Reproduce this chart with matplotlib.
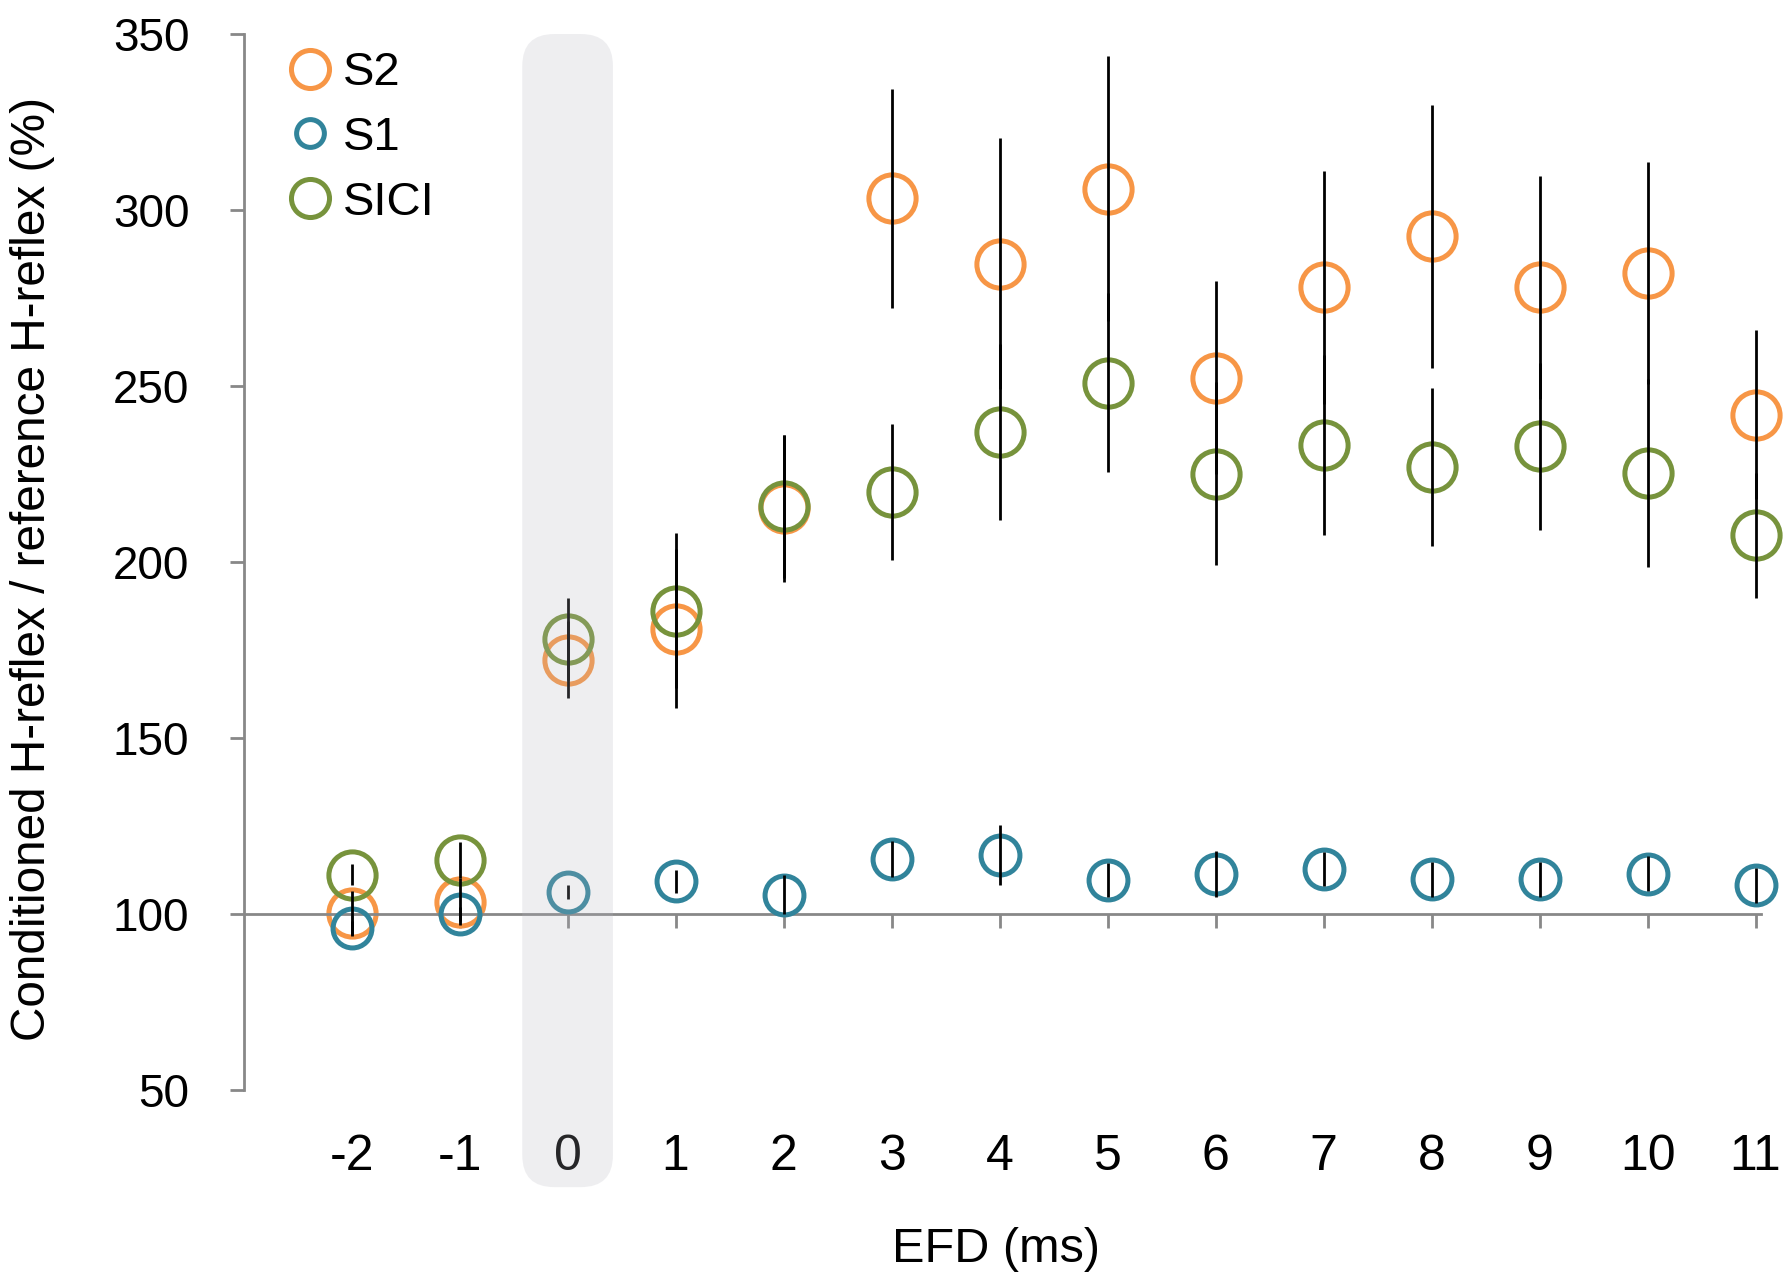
import matplotlib
matplotlib.use("Agg")
import matplotlib.pyplot as plt
from matplotlib.lines import Line2D
from matplotlib.patches import FancyBboxPatch
from matplotlib.transforms import IdentityTransform, blended_transform_factory
from matplotlib.colors import to_rgba

plt.rcParams['font.family'] = ['Liberation Sans', 'DejaVu Sans']

# EFD steps (ms) and mean +/- error for each conditioning
efd = [-2, -1, 0, 1, 2, 3, 4, 5, 6, 7, 8, 9, 10, 11]
efd_labels = ['-2', '-1', '0', '1', '2', '3', '4', '5', '6', '7', '8', '9', '10', '11']

s2 = [100.2, 103.5, 172.3, 181.1, 215.2, 303.3, 284.8, 306.1, 252.3, 278.0, 292.5, 278.0, 282.1, 241.8]
s2_err = [6.4, 6.6, 10.8, 22.5, 21.0, 31.0, 35.7, 37.7, 27.4, 33.1, 37.3, 31.8, 31.6, 24.0]

s1 = [96.1, 99.9, 106.2, 109.3, 105.5, 115.6, 116.8, 109.7, 111.4, 112.7, 109.8, 109.8, 111.4, 108.2]
s1_err = [2.0, 2.0, 2.0, 3.3, 5.6, 5.0, 8.5, 4.8, 6.5, 4.8, 5.0, 5.0, 5.0, 5.0]

sici = [111.1, 115.3, 178.2, 186.2, 215.8, 219.9, 237.0, 250.9, 225.1, 233.2, 227.0, 232.9, 225.3, 207.6]
sici_err = [3.0, 5.1, 11.7, 22.1, 20.4, 19.2, 25.0, 25.4, 25.9, 25.6, 22.4, 23.7, 26.8, 17.8]

ORANGE = '#f79646'
TEAL = '#31849b'
OLIVE = '#77933c'
AXIS_GREY = '#888888'

fig = plt.figure(figsize=(17.9, 12.73), dpi=100)
ax = fig.add_axes([0.1361, 0.14376, 0.8477, 0.82953])

series = [
    (s2, s2_err, ORANGE, 34, 'S2'),
    (s1, s1_err, TEAL, 28, 'S1'),
    (sici, sici_err, OLIVE, 34, 'SICI'),
]
for i, (vals, errs, col, ms, name) in enumerate(series):
    ax.plot(efd, vals, 'o', ls='none', mfc='none', mec=col, ms=ms, mew=3.6,
            zorder=2 + i, clip_on=False)
for vals, errs, col, ms, name in series:
    ax.errorbar(efd, vals, yerr=errs, fmt='none', ecolor='black', elinewidth=2,
                capsize=0, zorder=6, clip_on=False)

ax.set_xlim(-3, 11.05)
ax.set_ylim(50, 350)
ax.set_yticks(range(50, 351, 50))
ax.set_xticks(efd)
ax.set_xticklabels([])

for side in ('top', 'right'):
    ax.spines[side].set_visible(False)
ax.spines['bottom'].set_position(('data', 100))
for side in ('left', 'bottom'):
    ax.spines[side].set_color(AXIS_GREY)
    ax.spines[side].set_linewidth(2)

ax.tick_params(axis='both', direction='out', length=10, width=2, color=AXIS_GREY)
ax.tick_params(axis='y', labelsize=33, pad=29)

# category labels sit below the plot area, not on the 100 % line
lab_tr = blended_transform_factory(ax.transData, ax.transAxes)
for x, lab in zip(efd, efd_labels):
    ax.text(x, -0.0758, lab, transform=lab_tr, ha='center', va='baseline', fontsize=36)

ax.text(0.4958, -0.1629, 'EFD (ms)', transform=ax.transAxes, ha='center',
        va='baseline', fontsize=35)
fig.text(45 / 1790, 1 - 569 / 1273, 'Conditioned H-reflex / reference H-reflex (%)',
         rotation=90, rotation_mode='anchor', ha='center', va='baseline', fontsize=34.4)

handles = [Line2D([], [], marker='o', ls='none', mfc='none', mec=ORANGE, ms=27.4, mew=3.6),
           Line2D([], [], marker='o', ls='none', mfc='none', mec=TEAL, ms=20, mew=3.6),
           Line2D([], [], marker='o', ls='none', mfc='none', mec=OLIVE, ms=27.4, mew=3.6)]
ax.legend(handles, ['S2', 'S1', 'SICI'], loc='upper left', bbox_to_anchor=(0.0282, 0.9838),
          frameon=False, fontsize=34, handlelength=1.0, handletextpad=0.2,
          labelspacing=0.44, borderpad=0, borderaxespad=0)

# translucent rounded band over the EFD = 0 column
fig.canvas.draw()
x0, y_top = ax.transData.transform((-0.42, 350))
x1, _ = ax.transData.transform((0.42, 350))
_, y_bot = ax.transAxes.transform((0, -0.092))
band = FancyBboxPatch((x0, y_bot), x1 - x0, y_top - y_bot,
                      boxstyle='round,pad=0,rounding_size=32',
                      transform=IdentityTransform(), linewidth=0,
                      facecolor=to_rgba('#b4b4be', 0.216), zorder=10)
fig.add_artist(band)

fig.savefig('out.png', dpi=100)
